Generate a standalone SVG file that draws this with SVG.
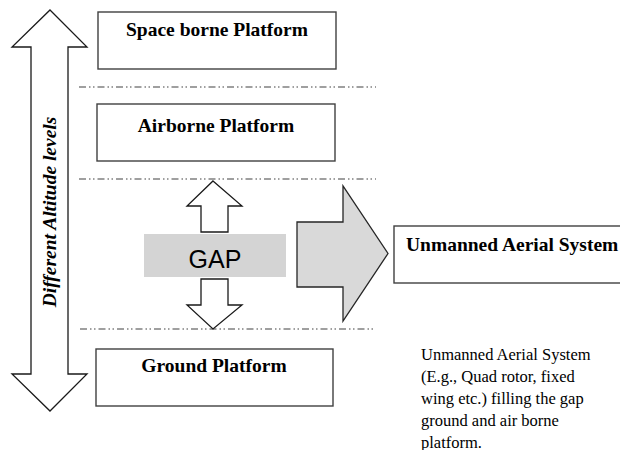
<svg xmlns="http://www.w3.org/2000/svg" width="620" height="450" viewBox="0 0 620 450">
<style>
.box{fill:#fff;stroke:#404040;stroke-width:1.4}
.sep{fill:none;stroke:#404040;stroke-width:1.2;stroke-dasharray:7 3 1.5 2.5 1.5 3}
.arr{fill:#fff;stroke:#1a1a1a;stroke-width:1.3;stroke-linejoin:miter}
.big{fill:#d9d9d9;stroke:#262626;stroke-width:1.3}
.lbl{font-family:"Liberation Serif","Times New Roman",serif;font-weight:bold;font-size:19.5px;fill:#000}
.para{font-family:"Liberation Serif","Times New Roman",serif;font-size:16.5px;fill:#000}
</style>
<rect width="620" height="450" fill="#fff"/>
<g id="connectors">
<line class="sep" x1="79" y1="87" x2="376" y2="87"/>
<line class="sep" x1="79" y1="179" x2="376" y2="179"/>
<line class="sep" x1="80" y1="329" x2="376" y2="329"/>
<polygon id="altitude-arrow" class="arr" points="50,10 87,47 68,47 68,374 87,374 50,411 12,374 31,374 31,47 12,47"/>
<polygon id="gap-up" class="arr" points="213,181 242,206 228,206 228,232 201,232 201,206 187,206"/>
<polygon id="gap-down" class="arr" points="201,279 228,279 228,305 242,305 213,329 187,305 201,305"/>
<polygon id="uas-arrow" class="big" points="297,222 343,222 343,186 388,253.5 343,321 343,287 297,287"/>
</g>
<g id="altitude-label">
<text class="lbl" font-style="italic" style="font-size:19.5px" text-anchor="middle" transform="translate(56,212) rotate(-90)">Different Altitude levels</text>
</g>
<g id="space">
<rect class="box" x="98" y="12" width="238" height="57"/>
<text class="lbl" x="217" y="36" text-anchor="middle">Space borne Platform</text>
</g>
<g id="airborne">
<rect class="box" x="97" y="104" width="238" height="57"/>
<text class="lbl" x="216" y="132" text-anchor="middle">Airborne Platform</text>
</g>
<g id="gap">
<rect x="144" y="234" width="142" height="43" fill="#d4d4d4"/>
<text x="215" y="268" text-anchor="middle" font-family="'Liberation Sans',Arial,sans-serif" font-size="25" fill="#000">GAP</text>
</g>
<g id="ground">
<rect class="box" x="96" y="349" width="237" height="57"/>
<text class="lbl" x="214" y="372" text-anchor="middle">Ground Platform</text>
</g>
<g id="uas">
<rect class="box" x="394" y="226" width="240" height="57"/>
<text class="lbl" x="406" y="251">Unmanned Aerial System</text>
</g>
<g id="note">
<text class="para" x="421">
<tspan x="421" y="359.5">Unmanned Aerial System</tspan>
<tspan x="421" y="381.5">(E.g., Quad rotor, fixed</tspan>
<tspan x="421" y="403.5">wing etc.) filling the gap</tspan>
<tspan x="421" y="425.5">ground and air borne</tspan>
<tspan x="421" y="447.5">platform.</tspan>
</text>
</g>
</svg>
